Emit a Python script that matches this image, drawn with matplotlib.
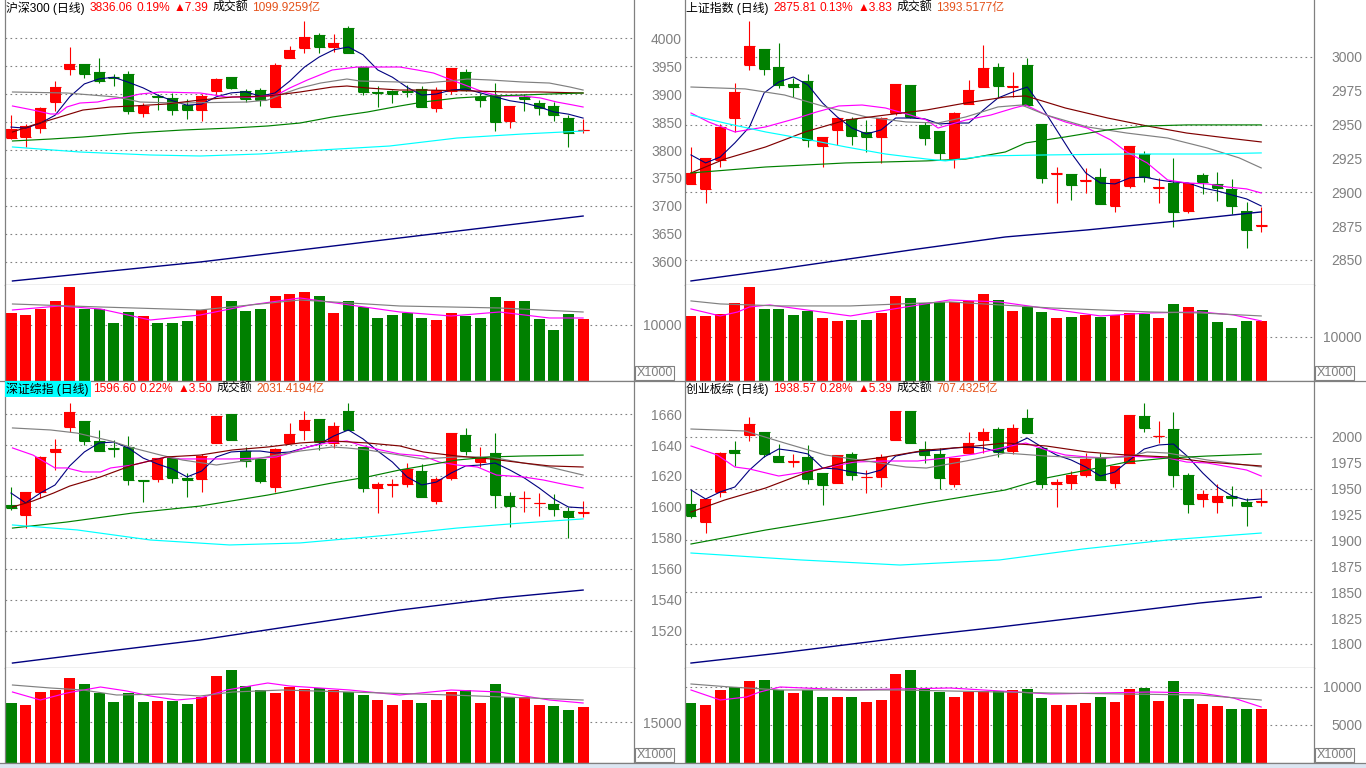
import numpy as np
import matplotlib
matplotlib.use("Agg")
import matplotlib.pyplot as plt
from matplotlib.patches import Rectangle
from matplotlib.lines import Line2D

W, H = 1366, 768
RED = '#FF0000'
GREEN = '#008000'
GREY = '#808080'
ORANGE = '#E4521B'
FONT = ['Liberation Sans', 'Noto Sans CJK SC', 'DejaVu Sans']
TICKFONT = ['Liberation Sans Narrow', 'Liberation Sans', 'DejaVu Sans']

# ---------------- 沪深300 ----------------
hs_o = [3821, 3823, 3839, 3886, 3945, 3954, 3939, 3930, 3936, 3866, 3897, 3893, 3880, 3871, 3905, 3930, 3905, 3907, 3877, 3964,
        3982, 4005, 3984, 4018, 3948, 3904, 3905, 3906, 3909, 3875, 3905, 3939, 3895, 3896, 3852, 3895, 3884, 3879, 3857, 3835]
hs_h = [3862, 3846, 3877, 3923, 3984, 3954, 3964, 3936, 3941, 3884, 3900, 3902, 3891, 3900, 3929, 3930, 3909, 3911, 3955, 3986,
        4030, 4009, 4007, 4021, 3950, 3914, 3907, 3916, 3914, 3913, 3946, 3945, 3902, 3920, 3879, 3900, 3889, 3886, 3862, 3855]
hs_l = [3820, 3805, 3830, 3870, 3934, 3929, 3920, 3914, 3864, 3859, 3871, 3862, 3855, 3852, 3900, 3909, 3886, 3879, 3877, 3964,
        3973, 3973, 3975, 3973, 3898, 3877, 3884, 3895, 3877, 3868, 3900, 3905, 3877, 3834, 3839, 3870, 3862, 3852, 3805, 3830]
hs_c = [3837, 3843, 3875, 3912, 3954, 3936, 3923, 3928, 3870, 3879, 3895, 3871, 3871, 3896, 3927, 3911, 3891, 3889, 3952, 3979,
        4002, 3984, 3991, 3973, 3904, 3902, 3900, 3904, 3877, 3907, 3946, 3907, 3889, 3850, 3879, 3891, 3875, 3863, 3830, 3836.06]
hs_vol = [12143, 11786, 12857, 14286, 16786, 12857, 12857, 10357, 12321, 11607, 10357, 10357, 10714, 12679, 15179, 14286,
          12500, 12857, 15179, 15536, 15893, 15179, 12143, 14286, 13214, 11250, 11786, 12143, 11250, 10893, 12143, 11607,
          11250, 15000, 14286, 14286, 11071, 9107, 11964, 11071]
hs_ma5 = [3841, 3839, 3848, 3862, 3895, 3918, 3927, 3930, 3921, 3911, 3898, 3888, 3880, 3882, 3895, 3902, 3904, 3896, 3902, 3923,
          3948, 3966, 3979, 3984, 3970, 3943, 3930, 3912, 3898, 3900, 3907, 3909, 3902, 3895, 3888, 3884, 3877, 3868, 3864, 3857]
hs_ma10 = [(0.1, 3878.6), (1.5, 3871.4), (2.7, 3864.3), (3.2, 3864.3), (3.8, 3876.8), (4.7, 3883.9), (5.9, 3885.7),
           (6.8, 3891.1), (7.9, 3894.6), (8.8, 3900.0), (10.2, 3903.6), (12.9, 3901.8), (14.7, 3894.6), (16.5, 3894.6),
           (18.1, 3898.2), (19.0, 3910.7), (20.2, 3925.0), (21.9, 3942.9), (23.6, 3948.2), (26.5, 3948.2), (27.7, 3942.9),
           (28.8, 3937.5), (30.4, 3921.4), (32.2, 3903.6), (33.3, 3896.4), (34.9, 3896.4), (36.1, 3892.9), (37.2, 3885.7),
           (38.3, 3880.4), (39.0, 3876.8)]
hs_ma20 = [(0.1, 3903.6), (3.8, 3901.8), (7.2, 3894.6), (8.8, 3885.7), (11.3, 3883.9), (16.1, 3885.7), (17.5, 3889.3),
           (18.5, 3900.0), (19.7, 3910.7), (21.1, 3919.6), (22.9, 3926.8), (23.8, 3923.2), (26.5, 3921.4), (28.1, 3919.6),
           (29.9, 3923.2), (31.1, 3926.8), (32.7, 3925.0), (34.9, 3921.4), (36.7, 3919.6), (38.1, 3912.5), (39.0, 3907.1)]
hs_ma30 = [(0.1, 3832.1), (1.5, 3844.6), (3.1, 3857.1), (4.9, 3871.4), (6.8, 3876.8), (8.3, 3878.6), (10.6, 3882.1),
           (12.9, 3889.3), (15.1, 3894.6), (17.5, 3896.4), (19.7, 3903.6), (21.9, 3912.5), (22.9, 3914.3), (24.3, 3910.7),
           (26.5, 3907.1), (28.1, 3907.1), (31.5, 3905.4), (33.8, 3903.6), (36.1, 3903.6), (39.0, 3901.8)]
hs_ma60 = [(0.1, 3816.1), (2.7, 3819.6), (4.9, 3823.2), (8.3, 3830.4), (11.7, 3835.7), (15.1, 3839.3), (17.5, 3842.9),
           (19.7, 3848.2), (21.9, 3858.9), (24.3, 3867.9), (26.5, 3878.6), (28.1, 3885.7), (30.4, 3892.9), (32.7, 3896.4),
           (34.9, 3898.2), (36.7, 3900.0), (39.0, 3901.8)]
hs_ma120 = [(0.1, 3805.4), (4.7, 3796.4), (9.5, 3791.1), (12.9, 3789.3), (17.0, 3792.9), (21.1, 3800.0), (25.8, 3807.1),
            (30.4, 3821.4), (34.9, 3828.6), (39.0, 3833.9)]
hs_ma250 = [(0.1, 3566.1), (6.1, 3582.1), (12.9, 3600.0), (19.7, 3621.4), (26.5, 3642.9), (33.3, 3664.3), (39.0, 3682.1)]
hs_vma1 = [(0.1, 12679), (3.3, 13393), (6.1, 12857), (9.5, 10893), (12.9, 11786), (16.3, 13571), (19.7, 14821),
           (23.1, 13571), (26.5, 12321), (30.0, 11607), (33.3, 12321), (36.7, 11250), (39.0, 11250)]
hs_vma2 = [(0.1, 13750), (6.1, 13214), (12.9, 12679), (19.7, 14464), (26.5, 13393), (33.3, 13036), (39.0, 12321)]
hs_title = [('沪深300 (日线)', 'black'), ('3836.06', RED), ('0.19%', RED), ('▲7.39', RED),
            ('成交额', 'black'), ('1099.9259亿', ORANGE)]

# ---------------- 上证指数 ----------------
sh_o = [2906.2, 2902.5, 2923.9, 2954.9, 2994.1, 3005.9, 2992.6, 2980.0, 2982.3, 2934.2, 2946.1, 2954.2, 2944.6, 2940.9,
        2958.6, 2979.3, 2949.8, 2945.3, 2924.6, 2965.3, 2977.8, 2992.6, 2977.8, 2994.1, 2950.5, 2913.5, 2913.5, 2908.4,
        2911.3, 2889.9, 2904.7, 2928.3, 2903.2, 2906.9, 2886.2, 2912.8, 2906.2, 2902.5, 2886.2, 2874.8]
sh_h = [2933.5, 2925.4, 2950.5, 2980.8, 3026.6, 3005.9, 3010.3, 2984.5, 2987.4, 2940.9, 2954.9, 2955.7, 2953.4, 2955.7,
        2980.0, 2979.3, 2952.0, 2945.3, 2959.4, 2983.0, 3008.9, 2995.6, 2988.9, 2999.3, 2950.5, 2918.7, 2913.5, 2918.0,
        2918.0, 2909.9, 2934.2, 2930.5, 2910.6, 2925.4, 2906.9, 2914.3, 2915.0, 2909.9, 2892.9, 2889.2]
sh_l = [2906.2, 2892.1, 2918.7, 2944.6, 2990.4, 2986.7, 2977.0, 2970.4, 2933.5, 2918.7, 2935.0, 2935.0, 2929.8, 2921.7,
        2957.1, 2954.9, 2935.0, 2923.9, 2918.0, 2965.3, 2977.8, 2970.4, 2970.4, 2964.5, 2906.9, 2892.1, 2894.3, 2899.5,
        2891.4, 2885.5, 2903.2, 2907.6, 2892.1, 2874.4, 2884.7, 2898.8, 2893.6, 2884.0, 2858.9, 2870.7]
sh_c = [2914.3, 2925.4, 2948.3, 2974.1, 3008.1, 2991.1, 2979.3, 2977.8, 2938.7, 2940.9, 2954.9, 2941.6, 2940.9, 2954.9,
        2980.0, 2955.7, 2940.1, 2929.1, 2958.6, 2975.6, 2991.9, 2978.6, 2978.6, 2964.5, 2910.6, 2914.3, 2905.4, 2909.1,
        2891.4, 2909.9, 2934.2, 2911.3, 2903.9, 2885.5, 2906.9, 2907.6, 2903.2, 2889.9, 2872.2, 2875.81]
sh_vol = [14773, 14773, 15227, 17727, 21364, 16364, 16364, 15000, 15909, 14318, 13636, 13864, 13864, 15455, 19318, 18864,
          17727, 17955, 17955, 18182, 19773, 18409, 15909, 16818, 15682, 14318, 14545, 15000, 14545, 15000, 15455, 15227,
          14318, 17500, 16818, 16136, 13409, 12045, 13636, 13636]
sh_ma5 = [2927.6, 2921.7, 2926.1, 2936.5, 2948.3, 2973.4, 2981.5, 2985.2, 2979.3, 2966.0, 2955.7, 2947.5, 2943.1, 2946.1,
          2954.9, 2954.9, 2954.2, 2950.5, 2951.2, 2951.2, 2960.8, 2969.7, 2974.1, 2977.8, 2963.1, 2946.1, 2929.1, 2914.3,
          2906.9, 2906.2, 2910.6, 2911.3, 2909.1, 2907.6, 2906.9, 2903.2, 2901.0, 2898.0, 2895.1, 2889.9]
sh_ma10 = [(0, 2958.6), (1.2, 2952.0), (3.0, 2944.6), (5.1, 2948.3), (7.3, 2954.9), (8.6, 2959.4), (10.1, 2963.8),
           (11.7, 2964.5), (13.3, 2962.3), (15.0, 2957.1), (16.1, 2953.4), (16.9, 2947.5), (18.8, 2953.4), (20.5, 2957.1),
           (22.1, 2962.3), (22.9, 2964.5), (24.3, 2957.1), (25.6, 2952.0), (27.1, 2947.5), (28.7, 2938.7), (29.8, 2929.8),
           (31.2, 2921.7), (32.6, 2909.1), (33.9, 2906.9), (35.3, 2906.2), (36.7, 2903.9), (38.0, 2902.5), (39.0, 2899.5)]
sh_ma20 = [(0, 2977.8), (3.7, 2976.4), (6.4, 2971.9), (9.2, 2963.1), (12.0, 2955.7), (14.7, 2952.0), (16.9, 2951.2),
           (18.8, 2955.7), (21.0, 2963.1), (22.6, 2964.5), (24.3, 2957.1), (27.1, 2948.3), (29.8, 2943.8), (32.6, 2940.1),
           (35.3, 2932.8), (37.5, 2925.4), (39.0, 2918.0)]
sh_ma30 = [(0, 2914.3), (2.3, 2924.6), (5.1, 2933.5), (7.8, 2944.6), (10.6, 2953.4), (13.3, 2957.1), (16.1, 2960.8),
           (18.8, 2966.0), (21.5, 2970.4), (22.9, 2971.2), (25.6, 2962.3), (28.5, 2954.9), (31.2, 2949.0), (33.9, 2943.8),
           (36.7, 2940.1), (39.0, 2937.2)]
sh_ma60 = [(0, 2914.3), (5.1, 2918.7), (10.6, 2921.7), (16.1, 2923.2), (18.8, 2924.6), (21.5, 2929.8), (22.9, 2936.5),
           (25.6, 2940.9), (28.5, 2946.1), (31.2, 2949.0), (33.9, 2949.8), (39.0, 2949.8)]
sh_ma120 = [(0, 2957.1), (2.3, 2951.2), (5.1, 2944.6), (7.8, 2939.4), (10.6, 2933.5), (13.3, 2928.3), (16.1, 2924.6),
            (17.4, 2923.2), (20.2, 2926.9), (24.3, 2927.6), (29.8, 2928.3), (35.3, 2928.3), (39.0, 2929.1)]
sh_ma250 = [(0, 2834.5), (6.1, 2843.4), (15.5, 2858.1), (21.5, 2867.0), (27.1, 2872.2), (32.6, 2878.1), (39.0, 2885.5)]
sh_vma1 = [(0, 16364), (2.0, 14773), (3.2, 15682), (4.0, 16818), (5.4, 17273), (10.9, 14773), (17.7, 18409),
           (21.1, 17955), (28.0, 14773), (31.4, 15455), (34.8, 15682), (37.1, 15000), (39.0, 13636)]
sh_vma2 = [(0, 18182), (2.0, 17500), (6.1, 17045), (10.9, 17045), (17.7, 17955), (24.6, 16591), (31.4, 15682),
           (34.8, 15455), (39.0, 14773)]
sh_title = [('上证指数 (日线)', 'black'), ('2875.81', RED), ('0.13%', RED), ('▲3.83', RED),
            ('成交额', 'black'), ('1393.5177亿', ORANGE)]

# ---------------- 深证综指 ----------------
sz_o = [1601.3, 1594.8, 1609.7, 1635.5, 1651.6, 1655.5, 1642.6, 1638.1, 1638.7, 1617.1, 1618.1, 1631.6, 1618.4, 1618.1,
        1641.3, 1660.0, 1636.1, 1631.0, 1612.9, 1641.3, 1649.7, 1656.8, 1641.3, 1661.9, 1638.7, 1612.3, 1614.5, 1614.8,
        1623.2, 1603.9, 1618.7, 1646.5, 1629.0, 1634.8, 1607.1, 1605.5, 1602.3, 1601.9, 1597.4, 1595.9]
sz_h = [1612.9, 1609.7, 1632.9, 1643.9, 1667.1, 1655.5, 1649.7, 1643.2, 1645.8, 1617.4, 1631.6, 1631.6, 1621.9, 1634.2,
        1658.7, 1660.0, 1638.7, 1631.0, 1638.1, 1654.2, 1661.9, 1656.8, 1654.8, 1667.1, 1638.7, 1616.1, 1618.1, 1628.4,
        1627.7, 1619.4, 1647.7, 1651.0, 1638.7, 1647.7, 1609.7, 1610.3, 1609.0, 1608.4, 1600.0, 1603.9]
sz_l = [1598.1, 1586.4, 1605.8, 1623.9, 1648.4, 1640.0, 1636.1, 1632.3, 1614.2, 1603.2, 1616.1, 1615.5, 1606.4, 1609.7,
        1641.3, 1643.2, 1625.8, 1615.5, 1609.7, 1641.3, 1643.2, 1636.8, 1638.1, 1649.7, 1609.7, 1596.1, 1606.4, 1612.9,
        1606.4, 1601.9, 1617.4, 1633.5, 1625.8, 1599.4, 1587.1, 1596.8, 1594.2, 1594.2, 1580.0, 1593.5]
sz_c = [1599.4, 1609.7, 1632.3, 1637.4, 1661.3, 1642.6, 1636.1, 1637.4, 1617.4, 1616.8, 1631.6, 1618.7, 1617.7, 1632.9,
        1658.7, 1643.2, 1629.7, 1616.8, 1637.4, 1647.1, 1656.1, 1641.9, 1652.3, 1649.7, 1612.3, 1614.8, 1614.8, 1624.5,
        1606.4, 1618.1, 1647.7, 1636.1, 1631.6, 1607.7, 1600.6, 1606.1, 1602.6, 1598.7, 1593.5, 1596.60]
sz_vol = [21951, 21220, 25976, 26707, 31098, 28902, 25610, 22317, 25610, 22317, 22683, 22683, 21585, 24146, 31829, 34024,
          28171, 26707, 25610, 27805, 27073, 27439, 26707, 25976, 24878, 23049, 21220, 23049, 21951, 23049, 25976, 26707,
          21951, 28902, 24146, 24146, 21220, 20854, 19390, 20488]
sz_ma5 = [1609.0, 1602.6, 1609.0, 1614.2, 1626.5, 1635.5, 1641.3, 1641.9, 1638.1, 1631.6, 1627.7, 1624.5, 1619.4, 1623.2,
          1632.3, 1635.5, 1636.1, 1636.1, 1634.8, 1635.5, 1638.1, 1640.6, 1645.8, 1649.7, 1643.9, 1636.1, 1629.0, 1619.4,
          1614.2, 1616.1, 1621.9, 1626.5, 1627.1, 1628.4, 1623.9, 1618.7, 1612.3, 1605.2, 1600.0, 1599.4]
sz_ma10 = [(0.1, 1638.1), (1.5, 1633.5), (3.0, 1625.2), (3.8, 1625.2), (4.9, 1622.6), (6.1, 1622.6), (6.8, 1625.2),
           (8.3, 1627.1), (9.7, 1630.3), (10.6, 1632.3), (11.5, 1631.0), (15.1, 1631.0), (17.0, 1631.6), (18.1, 1632.3),
           (19.0, 1634.8), (20.2, 1638.7), (21.5, 1641.3), (22.9, 1642.6), (23.8, 1640.0), (25.2, 1636.8), (26.5, 1634.2),
           (28.1, 1632.9), (29.2, 1629.0), (30.4, 1627.1), (31.8, 1625.8), (33.1, 1620.6), (34.9, 1619.4), (36.3, 1617.4),
           (37.6, 1614.8), (39.0, 1612.3)]
sz_ma20 = [(0.1, 1651.0), (2.7, 1649.7), (4.5, 1647.7), (6.8, 1642.6), (8.3, 1638.1), (10.2, 1633.5), (11.7, 1630.3),
           (14.0, 1627.1), (16.3, 1630.3), (18.1, 1633.5), (19.7, 1636.1), (21.9, 1638.7), (22.9, 1638.1), (24.3, 1636.8),
           (26.5, 1633.5), (28.1, 1631.0), (30.4, 1632.3), (32.7, 1632.3), (34.9, 1628.4), (36.7, 1625.8), (39.0, 1620.6)]
sz_ma30 = [(0.1, 1600.0), (1.5, 1603.9), (2.9, 1609.0), (4.0, 1613.5), (6.1, 1619.4), (8.3, 1627.1), (10.6, 1632.3),
           (12.9, 1633.5), (15.1, 1636.8), (17.5, 1638.7), (19.7, 1641.3), (21.9, 1642.6), (24.3, 1641.3), (26.5, 1639.4),
           (28.1, 1635.5), (30.4, 1632.9), (32.7, 1631.0), (34.9, 1628.4), (36.7, 1626.5), (39.0, 1625.8)]
sz_ma60 = [(0.1, 1586.4), (3.8, 1590.3), (8.3, 1596.1), (12.9, 1600.6), (17.5, 1607.7), (21.9, 1615.5), (24.3, 1619.4),
           (26.5, 1623.9), (28.1, 1626.5), (30.4, 1630.3), (32.7, 1632.3), (34.9, 1632.9), (39.0, 1633.5)]
sz_ma120 = [(0.1, 1588.4), (4.5, 1585.2), (9.5, 1578.7), (14.9, 1575.5), (19.7, 1576.8), (25.8, 1581.9), (30.4, 1586.4),
            (34.9, 1589.7), (39.0, 1592.3)]
sz_ma250 = [(0.1, 1499.3), (6.1, 1506.4), (12.9, 1514.2), (19.7, 1523.9), (26.5, 1533.5), (33.3, 1541.3), (39.0, 1546.4)]
sz_vma1 = [(0.1, 25976), (2.0, 23049), (3.8, 25610), (6.1, 27805), (7.9, 26341), (9.5, 24512), (11.3, 23049),
           (12.9, 23780), (14.7, 26707), (17.5, 29268), (19.0, 28171), (23.1, 26707), (26.5, 24878), (30.0, 26707),
           (33.3, 25976), (36.7, 23049), (39.0, 21951)]
sz_vma2 = [(0.1, 28537), (2.7, 27439), (4.9, 26707), (7.2, 24878), (10.6, 25244), (12.9, 24512), (15.1, 25976),
           (18.5, 26707), (23.1, 25976), (30.0, 24878), (39.0, 23049)]
sz_title = [('深证综指 (日线)', 'black'), ('1596.60', RED), ('0.22%', RED), ('▲3.50', RED),
            ('成交额', 'black'), ('2031.4194亿', ORANGE)]

# ---------------- 创业板综 ----------------
cy_o = [1935.3, 1917.9, 1946.9, 1987.4, 2001.9, 2004.8, 1981.6, 1976.3, 1980.7, 1965.2, 1955.6, 1983.6, 1960.9, 1961.4,
        1997.1, 2025.1, 1988.4, 1983.6, 1954.6, 1984.5, 1997.1, 2007.7, 1986.5, 2018.4, 1989.4, 1954.6, 1955.6, 1963.3,
        1979.7, 1955.6, 1974.9, 2020.3, 2000.5, 2007.7, 1963.3, 1940.1, 1937.2, 1943.0, 1937.2, 1937.2]
cy_h = [1948.8, 1940.1, 1985.5, 1996.1, 2019.3, 2004.8, 1993.2, 1983.6, 1992.3, 1965.2, 1982.6, 1985.5, 1968.1, 1983.6,
        2025.1, 2025.1, 1996.1, 1989.4, 1979.7, 2004.8, 2008.7, 2009.7, 2012.6, 2027.1, 1990.3, 1959.4, 1967.1, 1984.5,
        1984.5, 1972.0, 2021.3, 2032.9, 2015.5, 2024.2, 1965.2, 1948.8, 1954.6, 1952.7, 1941.1, 1949.8]
cy_l = [1921.7, 1907.2, 1942.0, 1972.0, 1996.1, 1980.7, 1975.8, 1971.0, 1954.6, 1934.3, 1955.6, 1958.5, 1945.9, 1951.7,
        1997.1, 1994.2, 1974.9, 1949.8, 1951.7, 1984.5, 1984.5, 1980.7, 1983.6, 2003.9, 1950.7, 1932.4, 1949.8, 1961.4,
        1958.5, 1950.7, 1974.9, 2004.8, 1994.2, 1951.7, 1926.6, 1932.4, 1926.6, 1933.3, 1914.0, 1933.3]
cy_c = [1923.7, 1940.1, 1984.5, 1984.5, 2012.6, 1983.6, 1975.8, 1976.8, 1959.4, 1953.6, 1982.6, 1963.3, 1961.4, 1980.7,
        2025.1, 1994.2, 1982.6, 1960.4, 1979.7, 1994.2, 2004.8, 1985.5, 2008.7, 2003.9, 1954.6, 1956.5, 1963.3, 1978.7,
        1958.5, 1972.0, 2021.3, 2008.7, 2001.0, 1963.3, 1935.3, 1944.9, 1943.0, 1941.1, 1933.3, 1938.57]
cy_vol = [7895, 7632, 9605, 10000, 10789, 10921, 9605, 9211, 9605, 8684, 8684, 8684, 8026, 8289, 11711, 12237, 9737, 9342,
          8684, 9342, 9474, 9474, 9605, 9737, 8553, 7632, 7632, 7895, 8684, 8026, 9737, 9868, 8158, 10789, 8421, 7763,
          7500, 7105, 7105, 7105]
cy_ma5 = [1948.8, 1940.1, 1946.9, 1951.7, 1968.1, 1980.7, 1988.4, 1986.5, 1983.6, 1970.0, 1969.1, 1966.2, 1964.2, 1968.1,
          1981.6, 1984.5, 1986.5, 1987.4, 1989.4, 1990.3, 1989.4, 1985.5, 1992.3, 1999.0, 1990.3, 1982.6, 1977.8, 1971.0,
          1962.3, 1966.2, 1977.8, 1988.4, 1992.3, 1993.2, 1980.7, 1965.2, 1951.7, 1943.0, 1939.1, 1940.1]
cy_ma10 = [(0, 1991.3), (1.8, 1982.6), (3.0, 1971.0), (4.0, 1969.1), (6.0, 1962.3), (7.8, 1966.2), (10.1, 1972.9),
           (11.2, 1975.8), (13.3, 1976.8), (15.5, 1976.8), (17.4, 1979.7), (19.4, 1983.6), (21.5, 1990.3), (22.9, 1994.2),
           (24.3, 1987.4), (25.6, 1982.6), (27.1, 1980.7), (28.5, 1979.7), (29.8, 1981.6), (32.6, 1979.7), (33.9, 1975.8),
           (35.3, 1974.9), (38.0, 1968.1), (39.0, 1962.3)]
cy_ma20 = [(0, 2007.7), (3.7, 2005.8), (6.4, 1994.2), (9.2, 1982.6), (12.0, 1976.8), (14.7, 1971.0), (16.1, 1970.0),
           (18.8, 1976.8), (21.5, 1984.5), (24.3, 1981.6), (27.1, 1979.7), (29.8, 1980.7), (31.2, 1985.5), (32.6, 1984.5),
           (35.3, 1977.8), (39.0, 1971.0)]
cy_ma30 = [(0, 1927.5), (2.3, 1939.1), (5.1, 1950.7), (7.8, 1965.2), (10.6, 1975.8), (13.3, 1980.7), (16.1, 1987.4),
           (18.8, 1990.3), (21.5, 1994.2), (24.3, 1991.3), (27.1, 1985.5), (29.8, 1982.6), (32.6, 1980.7), (35.3, 1975.8),
           (39.0, 1972.0)]
cy_ma60 = [(0, 1896.6), (5.1, 1910.1), (10.6, 1922.7), (16.1, 1936.2), (21.5, 1948.8), (24.3, 1960.4), (27.1, 1968.1),
           (29.8, 1975.8), (32.6, 1979.7), (35.3, 1981.6), (39.0, 1983.6)]
cy_ma120 = [(0, 1887.9), (7.5, 1881.2), (14.3, 1876.3), (21.1, 1881.2), (26.8, 1891.8), (32.6, 1900.5), (39.0, 1907.2)]
cy_ma250 = [(0, 1781.6), (6.1, 1791.3), (14.3, 1805.8), (21.1, 1816.4), (28.0, 1828.0), (34.8, 1839.6), (39.0, 1845.4)]
cy_vma1 = [(0, 9605), (2.0, 8289), (3.8, 8684), (4.7, 9342), (6.1, 10000), (10.9, 9605), (17.7, 9868), (24.6, 9079),
           (31.4, 9342), (34.8, 9211), (37.1, 8553), (39.0, 7368)]
cy_vma2 = [(0, 10395), (2.7, 10000), (6.1, 9605), (14.3, 9605), (24.6, 9211), (34.8, 8947), (39.0, 8289)]
cy_title = [('创业板综 (日线)', 'black'), ('1938.57', RED), ('0.28%', RED), ('▲5.39', RED),
            ('成交额', 'black'), ('707.4325亿', ORANGE)]

MA_COLORS = ['#FF00FF', GREY, '#800000', '#008000', '#00FFFF', '#000080']

fig = plt.figure(figsize=(W / 100, H / 100), dpi=100)
fig.patch.set_facecolor('white')
renderer = fig.canvas.get_renderer()


def px_axes(x0, y0, x1, y1):
    return fig.add_axes([x0 / W, 1 - y1 / H, (x1 - x0) / W, (y1 - y0) / H])


def style(ax, ticks, grid, xmax):
    ax.set_xlim(-0.41, xmax)
    ax.set_xticks([])
    ax.yaxis.tick_right()
    ax.set_yticks(ticks)
    ax.set_yticklabels([str(t) for t in ticks], ha='right', family=TICKFONT)
    ax.tick_params(axis='y', length=0, pad=34.6, labelcolor=GREY, labelsize=10)
    for v in grid:
        ax.axhline(v, color=GREY, lw=0.8, ls=(0, (1.5, 3)), zorder=0)
    ax.spines['top'].set_visible(False)
    for s in ('left', 'right', 'bottom'):
        ax.spines[s].set_color(GREY)
        ax.spines[s].set_linewidth(0.9)


def draw(box, o, h, l, c, vol, ma5, mas, vmas, ylim, ticks, grid, vtop, vticks, title, bg=None):
    x0, y0, x1, ym, y1, xmax = box
    o, h, l, c = map(np.asarray, (o, h, l, c))
    x = np.arange(len(c))
    col = np.where(c >= o, RED, GREEN)

    ax = px_axes(x0, y0, x1, ym)
    ax.set_ylim(*ylim)
    style(ax, ticks, grid, xmax)
    ax.vlines(x, l, h, colors=col, lw=0.8, zorder=2)
    ax.bar(x, np.abs(c - o), 0.75, bottom=np.minimum(o, c), color=col, lw=0, zorder=2)
    ax.hlines(o, x - 0.375, x + 0.375, colors=col, lw=0.8, zorder=2)
    ax.hlines(c, x - 0.375, x + 0.375, colors=col, lw=0.8, zorder=2)
    ax.plot(x, ma5, color='#000080', lw=0.8, zorder=3)
    for pts, mc in zip(mas, MA_COLORS):
        px, py = zip(*pts)
        ax.plot(px, py, color=mc, lw=1.0 if mc == '#000080' else 0.85, zorder=3)

    axv = px_axes(x0, ym, x1, y1)
    axv.set_ylim(0, vtop)
    style(axv, vticks, vticks, xmax)
    axv.bar(x, vol, 0.75, color=col, lw=0, zorder=2)
    for pts, mc in zip(vmas, ['#FF00FF', GREY]):
        px, py = zip(*pts)
        axv.plot(px, py, color=mc, lw=0.85, zorder=3)

    # title line made of coloured pieces
    tx = x0 + 1.5
    ty = y0 + 8
    for i, (s, tc) in enumerate(title):
        t = fig.text(tx / W, 1 - ty / H, s, color=tc, fontsize=8.6, family=FONT, va='center', ha='left')
        if i == 0 and bg:
            t.set_bbox(dict(facecolor=bg, edgecolor='none', pad=1.2))
        tx += t.get_window_extent(renderer).width + 4

    # X1000 box
    bx = x1 + 1
    fig.add_artist(Rectangle((bx / W, 1 - (y1 - 1) / H), 39 / W, 14 / H, transform=fig.transFigure,
                             fill=False, ec=GREY, lw=0.8))
    fig.text((bx + 19.5) / W, 1 - (y1 - 8) / H, 'X1000', color=GREY, fontsize=9, family=TICKFONT,
             ha='center', va='center')


draw((5, 0, 634, 285, 381, 42.47), hs_o, hs_h, hs_l, hs_c, hs_vol, hs_ma5,
     [hs_ma10, hs_ma20, hs_ma30, hs_ma60, hs_ma120, hs_ma250], [hs_vma1, hs_vma2],
     (3558.9, 4067.9), list(range(3600, 4001, 50)), list(range(3600, 4001, 50)),
     17140, [10000], hs_title)
draw((685, 0, 1314, 285, 381, 42.61), sh_o, sh_h, sh_l, sh_c, sh_vol, sh_ma5,
     [sh_ma10, sh_ma20, sh_ma30, sh_ma60, sh_ma120, sh_ma250], [sh_vma1, sh_vma2],
     (2831.5, 3042.1), list(range(2850, 3001, 25)), [2850, 2900, 2950, 3000],
     21800, [10000], sh_title)
draw((5, 381, 634, 668, 763, 42.47), sz_o, sz_h, sz_l, sz_c, sz_vol, sz_ma5,
     [sz_ma10, sz_ma20, sz_ma30, sz_ma60, sz_ma120, sz_ma250], [sz_vma1, sz_vma2],
     (1496.1, 1681.3), list(range(1520, 1661, 20)), list(range(1520, 1661, 20)),
     34760, [15000], sz_title, bg='#00FFFF')
draw((685, 381, 1314, 668, 763, 42.61), cy_o, cy_h, cy_l, cy_c, cy_vol, cy_ma5,
     [cy_ma10, cy_ma20, cy_ma30, cy_ma60, cy_ma120, cy_ma250], [cy_vma1, cy_vma2],
     (1776.8, 2054.1), list(range(1800, 2001, 25)), [1800, 1850, 1900, 1950, 2000],
     12500, [5000, 10000], cy_title)

# frame lines across the whole window and bottom strip
for yy in (381, 763):
    fig.add_artist(Line2D([0, 1], [1 - yy / H] * 2, transform=fig.transFigure, color=GREY, lw=0.9))
fig.add_artist(Rectangle((0, 0), 1, 5 / H, transform=fig.transFigure, color='#DCE6F2', lw=0))

fig.savefig('out.png', dpi=100)
